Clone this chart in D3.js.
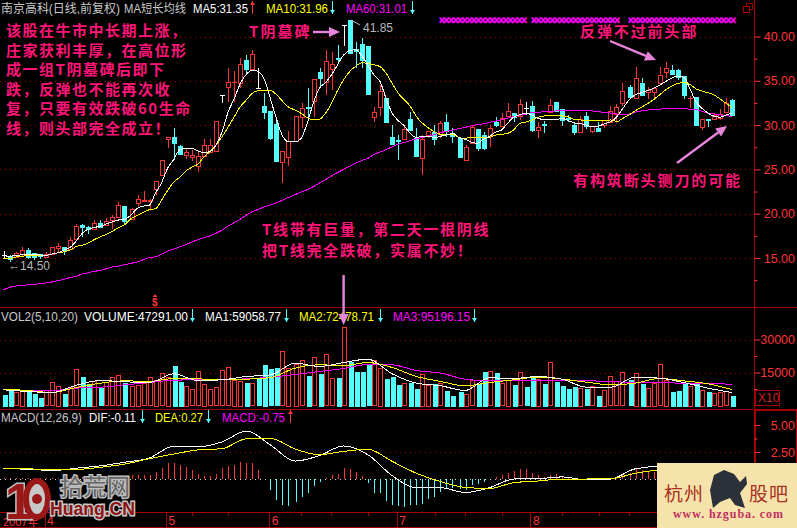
<!DOCTYPE html>
<html>
<head>
<meta charset="utf-8">
<title>南京高科</title>
<script src="https://cdn.jsdelivr.net/npm/d3@7"></script>
<style>
html, body { margin: 0; padding: 0; background: #000; }
svg { display: block; }
text { font-family: "Liberation Sans", "Noto Sans CJK SC", sans-serif; }
.cjk { font-family: "Noto Sans CJK SC", sans-serif; }
.note { font-family: "Noto Sans CJK SC", sans-serif; font-weight: 700; fill: #ff1478; }
</style>
</head>
<body>
<div id="chart"></div>
<script>
// prices, one entry per trading day
const opens = [15.34,15.2,15.15,15.4,15.9,15.55,15.4,15.2,15.45,16.05,16.25,16,17.15,18.7,18.5,18.35,19,18.7,19.35,19.65,20.9,19.4,21.2,21.45,21.5,22.7,24.4,28.45,28.7,27.65,26.65,26.4,25.4,26.45,27,27.1,33.45,34.25,34.85,34.7,37.4,36.35,34.15,32.15,31.6,30.1,25.9,26.45,28.2,30.85,32.05,32.65,35.95,34.85,36.4,37.55,41.3,41.85,38.6,39.2,38.9,30.85,32,33.1,28.7,28.3,28.45,30.7,28.6,26.25,28.9,29.25,28.95,30.35,29.1,28.6,26.05,27.95,29.55,28.9,28.7,30.3,30,31,31.35,31,31.95,32.15,29.5,30.15,31.5,32.6,31.8,30.8,30,29.2,31.05,29.35,29.65,30,30.4,31.2,32.55,34.25,33,34.7,33.75,33.8,34.7,35.9,36.2,36.2,35.55,33,33.15,29.75,30.65,30.65,30.75,31.5,32.85];
const closes = [15.34,14.9,15.55,15.9,15.15,15.1,15.2,15.5,16.2,16.3,15.9,17,18.6,18.5,18.3,19,18.6,19.2,19.65,21,19.2,20.5,21.65,21.55,21.6,23.65,26.1,28.66,28,26.8,26.95,26.6,26.5,27.7,27.75,30.45,33.45,34.85,34.9,36.85,36.35,38,34.15,31.5,28.6,25.95,27.1,28.2,31,31.9,31.9,35.15,35.25,37.2,36.95,37.45,41.3,38.1,38.35,37.35,33.5,31.45,33.85,30.4,27.95,28.2,29.55,29.5,26.55,28.45,29.35,28.5,30.2,29.35,28.75,26.45,27.5,29.8,27.45,27.45,29.65,30,30.85,31.6,30.95,32.35,31.95,29.45,29.8,30,32.25,31.6,30.6,30.7,29.2,30.65,29.9,29.9,29.35,30.6,31.6,32,33.9,33.15,35.3,33.3,33.95,34.2,35.65,36.4,35.75,35.4,33.4,33.05,30,30.65,30.55,31.15,31.25,32.55,31.15];
const highs = [15.8,15.3,15.7,16.2,16.1,15.6,15.5,15.7,16.2,16.7,16.25,17.4,18.85,18.85,18.6,19.25,19.25,19.5,19.85,21.35,20.9,20.6,22.1,22.55,21.65,23.65,26.1,28.66,29.65,27.7,27.3,27.2,27.2,28.4,28.45,30.45,33.45,36.5,36.05,37.55,37.9,38.5,36.5,33.6,31.6,30.5,27.1,29.35,31,32.45,34.15,35.15,36.4,38.5,38.3,39.05,41.3,41.85,39.4,39.8,38.9,32,34.5,33.1,30,28.9,30,31.5,29.65,28.9,29.35,30,30.45,31.25,29.65,28.6,27.75,30,29.55,29.25,30,30.95,31.35,32.5,31.35,32.95,32.65,32.7,30.4,30.5,32.9,32.6,31.8,31.15,30.25,31.05,31.45,29.9,30.4,30.6,32.1,32.4,34.7,34.5,36.6,35.3,34.25,34.25,36.6,37.15,36.8,36.3,35.55,33.3,33.15,30.7,30.65,31.35,31.8,33.05,32.9];
const lows = [15,14.5,15,15.1,14.9,14.8,14.9,15.1,15.4,15.7,15.3,15.9,17.1,17.4,17.7,18.3,18.35,18.6,18.25,19.6,18.75,19.4,20.9,21.45,20.5,22.1,24.2,27.4,26.1,26.6,26.15,25.95,24.75,26.4,26.9,27.1,32.45,32.65,32.65,34.15,35.9,36.15,34.15,30.7,28.3,25.95,23.45,25.4,28.2,29.65,30.75,30.95,34.2,33.4,34,36.95,38.95,38,36.4,36.4,33.5,30.3,31.05,30.4,27.85,26.1,28.45,29.5,26.55,24.4,28.5,27.75,28.5,28.7,28,26.45,26,27.95,27.1,27.2,27.55,29.8,30,30.95,30.4,30.6,31.15,29.25,28.6,29.1,31.4,31.5,29.9,30.4,28.9,29.1,29.55,29.1,29.3,29.7,30.3,30.2,32.1,33.1,33,33.3,32.95,32.95,34.7,35.3,35.7,35.1,32.95,31.9,30,29.45,29.8,30.6,30.55,31.4,31.1];
const ma5 = [15.25,15.2,15.3,15.35,15.45,15.4,15.35,15.3,15.45,15.6,15.9,16.2,16.95,17.8,18.25,18.45,18.6,18.85,19.1,19.3,19.4,19.85,20.6,20.85,20.95,22.3,23.45,25.1,26.1,27.2,27.4,27.4,27.1,26.9,27,27.75,29.25,31.5,33,34.7,35.75,36.2,36,35.1,32.85,30.6,28.7,28.1,28.1,28.5,30.2,32.45,34.15,34.8,35.65,36.8,37.9,38.4,38.5,37.8,36.8,35.65,34.9,33,31.35,30.5,29.9,29.05,28.6,28.75,28.75,28.6,28.75,28.9,29.05,28.6,28.4,28.1,27.95,28.4,28.7,29.2,29.45,30.2,30.9,31.15,31.35,31.15,30.75,30.65,30.65,30.65,30.75,30.5,30.25,30.15,30,29.8,29.9,30.15,30.4,30.95,31.9,32.85,33.4,33.65,33.9,34.15,34.5,34.9,35.3,35.55,35.4,34.15,32.65,31.9,31.35,31,30.9,31.15,31.35];
const ma10 = [14.9,14.95,15.1,15.2,15.25,15.3,15.3,15.3,15.45,15.6,15.7,15.9,16.3,16.45,16.7,17.1,17.4,17.7,18.05,18.45,18.8,19.45,19.8,20.15,20.45,20.55,21.5,22.6,23.55,24.1,24.8,25.25,25.6,26.4,27,27.75,28.7,29.8,30.95,32.1,32.85,33.6,33.9,33.95,33.9,33.4,32.65,32,31.7,31.33,30.85,30.6,30.65,31.33,32.45,33.9,35.1,36.05,36.65,37.05,36.95,36.8,36.6,35.85,34.7,33.6,32.85,32.1,30.95,30.2,29.65,29.25,28.95,28.9,28.9,28.6,28.5,28.62,28.62,28.62,28.62,28.88,28.95,29.07,29.45,30.2,30.35,30.58,30.88,31.03,31.03,31.05,31.03,30.9,30.65,30.58,30.5,30.5,30.47,30.5,30.58,30.4,30.77,31.15,31.6,32,32.4,32.85,33.4,33.95,34.4,34.7,34.8,34.6,34.1,33.85,33.65,33.4,32.95,32.45,31.96];
const ma60 = [11.39,11.7,11.84,11.9,11.97,12.03,12.1,12.2,12.3,12.45,12.6,12.8,12.95,13.2,13.35,13.5,13.6,13.8,14,14.1,14.25,14.4,14.55,14.8,15.05,15.13,15.4,15.75,16,16.25,16.5,16.8,17.05,17.3,17.5,17.8,18.15,18.6,19,19.4,19.85,20.25,20.5,20.8,21,21.25,21.55,21.85,22.15,22.45,22.7,23.05,23.45,23.85,24.25,24.65,25,25.35,25.7,26,26.25,26.7,26.95,27.25,27.55,27.85,28.05,28.25,28.45,28.6,28.75,28.95,29.15,29.3,29.45,29.6,29.75,29.9,30.05,30.15,30.3,30.45,30.6,30.8,30.95,31.1,31.25,31.4,31.45,31.5,31.55,31.6,31.65,31.67,31.7,31.7,31.65,31.6,31.5,31.45,31.35,31.25,31.15,31.25,31.45,31.6,31.7,31.75,31.8,31.85,31.9,31.9,31.85,31.8,31.75,31.55,31.35,31.25,31.15,31.05,31.01];

// volume bars (axis units, the real figure is X10)
const volumes = [5300,7120,6060,7120,7120,5760,4090,6820,10600,9090,5760,8330,16500,13480,10450,11200,8330,10600,12880,13790,10900,9090,9390,10150,12880,11670,14700,13180,18480,11200,8940,7420,15600,9850,7420,8330,16060,17420,11670,11200,10900,10150,12880,18940,16970,17420,24700,17120,18940,20600,13940,21970,15000,23330,12420,13030,35600,20450,15760,15900,19240,20600,17270,12570,13480,10000,10150,10900,8180,14390,9390,10450,10150,7120,4850,6670,5300,11510,10450,15760,15600,15300,10150,11670,10000,15150,8640,13940,12270,10450,19700,11360,9390,8180,8940,8030,7730,8790,4850,7120,13330,11060,15150,11970,14850,10450,8030,10450,18790,11670,6670,7120,10450,8940,10760,7120,6670,5600,6210,6510,4850];
const flatDownDays = [0, 42, 86];
// the average lines of the two lower panels, read every fourth day
const sampleDays = d3.range(0, 121, 4);
const volMa1 = [7120,6360,5910,9240,11360,10760,10450,14390,11360,11670,13180,13940,19240,17730,19540,21060,14390,10150,8940,6820,12570,12270,13180,11970,8330,8330,12880,12420,10450,7880,5906];
const volMa2 = [7420,6820,5910,8180,10150,11210,10910,12270,12120,11670,11970,12730,16970,18480,18180,19540,17270,13180,10910,8940,10450,11670,12880,11970,10600,9390,10150,12270,11210,9850,7248];
const volMa3 = [7420,6820,6820,7880,8330,9390,10450,11510,11670,11820,12120,12880,14090,15450,16820,18630,18480,15900,14700,11970,11210,11210,11210,11510,11360,10760,10600,10450,10150,10150,9520];

const macdHist = [0.05,0.05,0.05,0.05,0.05,0.05,0.05,0.05,0.05,0.05,0.05,0.1,0.1,0.2,0.2,0.2,0.2,0.25,0.3,0.3,0.3,0.35,0.38,0.41,0.38,0.69,1,1.44,1.5,1.28,1.13,0.81,0.44,0.31,0.31,0.47,1,1.25,1.31,1.56,1.47,1.47,0.84,0,-1.03,-1.97,-2.44,-2.53,-2.13,-1.66,-1.28,-0.66,-0.31,0.06,0.38,0.47,1,0.91,0.69,0.28,-0.34,-1.25,-1.34,-2.03,-2.44,-2.5,-2.6,-2.44,-2.38,-2.34,-1.88,-1.66,-1.19,-0.81,-0.81,-0.88,-1.03,-0.56,-0.47,-0.25,0,0.16,0.38,0.59,0.78,0.91,0.94,0.53,0.41,0.16,0.38,0.44,0.22,0.22,0.06,0.02,0.02,0.02,0.02,0.02,0,0.22,0.47,0.53,0.91,0.84,0.75,0.69,0.7,0.8,0.6,0.3,-0.5,-1,-1.2,-1.3,-1,-0.9,-0.8,-0.7,-0.75];
const dif = [0.94,0.91,0.78,1,1.22,1.56,1.94,3.03,2.97,3.44,4.44,3.13,1.66,2.16,3.06,2.25,0.31,-0.81,-0.81,-1.25,-0.81,0,0.03,0.19,-0.09,0,0.94,1.16,1.16,0.53,-0.11];
const dea = [0.94,0.94,0.84,0.88,1.09,1.38,1.88,2.31,2.69,2.81,3.72,3.75,2.78,2.25,2.56,2.75,1.63,0.53,-0.25,-0.78,-0.88,-0.34,-0.19,0,0,0.03,0.53,0.84,1,0.69,0.27];

const priceTicks = [40, 35, 30, 25, 20, 15];
const priceMinor = [37.5, 32.5, 27.5, 22.5, 17.5, 12.5];
const volTicks = [30000, 15000];
const volMinor = [22500, 7500];
const macdTicks = [5, 2.5];
const macdMinor = [3.75];
const monthDays = [7, 27, 44, 65, 87];
const monthNames = ["4", "5", "6", "7", "8"];
const minorDays = [13, 20, 31, 37, 49, 54, 60, 71, 76, 82, 92, 98, 103];

const noteLines = ["该股在牛市中长期上涨，", "庄家获利丰厚，在高位形", "成一组T阴墓碑后即下", "跌，反弹也不能再次收", "复，只要有效跌破60生命", "线，则头部完全成立！"];

const RED = "#ff3434";
const CYAN = "#54fcfc";
const DARKRED = "#a80000";
const MAGENTA = "#ff00ff";
const YELLOW = "#ffff00";
const ARROW = "#e884dc";

const width = 797, height = 528;
const svg = d3.select("#chart").append("svg")
        .attr("width", width)
        .attr("height", height)
        .style("background", "#000");

const x = d3.scaleLinear().domain([0, 120]).range([3.5, 732.3]);
const yPrice = d3.scaleLinear().domain([15, 40]).range([258, 36.5]);
const yVol = d3.scaleLinear().domain([0, 30000]).range([405.5, 339.5]);
const yMacd = d3.scaleLinear().domain([0, 5]).range([479, 425]);

function px(v) {
    return Math.round(v)+0.5;
}

// one pixel wide bars keep their colour in the photographed picture only on even columns
function barX(i) {
    return Math.round(x(i)/2)*2+0.5;
}

function drawGrid(scale, ticks, color) {
    svg.append("g").selectAll("line").data(ticks).join("line")
            .attr("x1", 0)
            .attr("x2", 754)
            .attr("y1", d => px(scale(d)))
            .attr("y2", d => px(scale(d)))
            .attr("stroke", color)
            .attr("stroke-dasharray", "1 4");
}

function drawAxis(scale, ticks, minor, fmt) {
    const g = svg.append("g").attr("transform", "translate(754.5,0)");
    g.call(d3.axisRight(scale).tickValues(ticks).tickFormat(fmt).tickSize(6));
    g.select(".domain").remove();
    g.selectAll("line").attr("stroke", RED);
    g.selectAll("text")
            .attr("x", 40.5)
            .attr("text-anchor", "end")
            .attr("fill", RED)
            .style("font-size", "12.5px");
    const m = svg.append("g").attr("transform", "translate(754.5,0)");
    m.call(d3.axisRight(scale).tickValues(minor).tickFormat("").tickSize(3));
    m.select(".domain").remove();
    m.selectAll("line").attr("stroke", RED);
}

drawGrid(yPrice, priceTicks, "#b00000");
drawGrid(yVol, volTicks, "#b00000");
drawGrid(yMacd, [2.5], "#b00000");
drawGrid(yMacd, [0], "#d8d8d8");

// frame
const frame = svg.append("g").attr("stroke", DARKRED).attr("fill", "none");
frame.append("line").attr("x1", 754.5).attr("x2", 754.5).attr("y1", 0).attr("y2", height);
[307.5, 409.5].forEach(function(y) {
    frame.append("line").attr("x1", 0).attr("x2", width).attr("y1", y).attr("y2", y);
});
frame.append("line").attr("x1", 0).attr("x2", 754).attr("y1", 512.5).attr("y2", 512.5);
frame.append("line").attr("x1", 0).attr("x2", 754).attr("y1", 527.5).attr("y2", 527.5);
frame.append("rect").attr("x", 755.5).attr("y", 410.5).attr("width", 41).attr("height", 116);
frame.append("rect").attr("x", 755.5).attr("y", 390.5).attr("width", 24).attr("height", 15);
frame.append("rect").attr("x", 743.5).attr("y", 6.5).attr("width", 6).attr("height", 6);
frame.append("path").attr("d", "M746.5 6V3.5H752.5V9.5H750");

drawAxis(yPrice, priceTicks, priceMinor, d3.format(".2f"));
drawAxis(yVol, volTicks, volMinor, d3.format("d"));
drawAxis(yMacd, macdTicks, macdMinor, d3.format(".2f"));

svg.append("text").text("X10")
        .attr("x", 758).attr("y", 402)
        .attr("fill", "#d02020")
        .style("font-size", "12px");

// candles
const days = d3.range(opens.length);
const candles = svg.append("g").attr("shape-rendering", "crispEdges");

function candleColor(i) {
    if (opens[i] === closes[i]) {
        return "#ffffff";
    }
    return closes[i] > opens[i] ? RED : CYAN;
}

candles.selectAll("line.wick").data(days).join("line")
        .attr("class", "wick")
        .attr("x1", barX)
        .attr("x2", barX)
        .attr("y1", i => yPrice(highs[i]))
        .attr("y2", i => yPrice(lows[i]))
        .attr("stroke", candleColor);

candles.selectAll("rect.body").data(days).join("rect")
        .attr("class", "body")
        .attr("x", i => barX(i)-2)
        .attr("y", i => px(yPrice(Math.max(opens[i], closes[i]))))
        .attr("width", 4)
        .attr("height", i => Math.max(0.01, Math.round(Math.abs(yPrice(opens[i])-yPrice(closes[i])))))
        .attr("fill", i => closes[i] > opens[i] ? "#000" : candleColor(i))
        .attr("stroke", candleColor);

const priceLine = d3.line().x((d, i) => x(i)).y(d => yPrice(d)).curve(d3.curveMonotoneX);
[[ma60, MAGENTA], [ma10, YELLOW], [ma5, "#ffffff"]].forEach(function(s) {
    svg.append("path")
            .attr("d", priceLine(s[0]))
            .attr("fill", "none")
            .attr("stroke", s[1])
            .attr("stroke-width", 1)
            .attr("shape-rendering", "crispEdges");
});

// magenta signal row at the top of the price panel
[[439, 88], [531, 89], [628, 108]].forEach(function(r) {
    svg.append("text")
            .text("×".repeat(Math.round(r[1]/4.6)))
            .attr("x", r[0]).attr("y", 24)
            .attr("textLength", r[1])
            .attr("lengthAdjust", "spacing")
            .attr("fill", MAGENTA)
            .attr("stroke", MAGENTA)
            .attr("stroke-width", 0.5)
            .style("font-size", "10px")
            .style("font-weight", "700");
});

// volume
const volume = svg.append("g").attr("shape-rendering", "crispEdges");
function isVolumeUp(i) {
    if (opens[i] === closes[i]) {
        return flatDownDays.indexOf(i) < 0;
    }
    return closes[i] > opens[i];
}
volume.selectAll("rect").data(days).join("rect")
        .attr("x", i => barX(i)-2)
        .attr("y", i => px(yVol(volumes[i])))
        .attr("width", i => isVolumeUp(i) ? 4 : 5)
        .attr("height", i => Math.round(yVol(0)-yVol(volumes[i])))
        .attr("fill", i => isVolumeUp(i) ? "#000" : CYAN)
        .attr("stroke", i => isVolumeUp(i) ? RED : "none");

const volLine = d3.line().x((d, i) => x(sampleDays[i])).y(d => yVol(d)).curve(d3.curveMonotoneX);
[[volMa3, MAGENTA], [volMa2, YELLOW], [volMa1, "#ffffff"]].forEach(function(s) {
    svg.append("path")
            .attr("d", volLine(s[0]))
            .attr("fill", "none")
            .attr("stroke", s[1])
            .attr("shape-rendering", "crispEdges");
});

// macd
const macd = svg.append("g").attr("shape-rendering", "crispEdges");
macd.selectAll("line").data(days).join("line")
        .attr("x1", barX)
        .attr("x2", barX)
        .attr("y1", yMacd(0))
        .attr("y2", i => yMacd(macdHist[i]))
        .attr("stroke", i => macdHist[i] >= 0 ? RED : CYAN);

const macdLine = d3.line().x((d, i) => x(sampleDays[i])).y(d => yMacd(d)).curve(d3.curveMonotoneX);
[[dif, "#ffffff"], [dea, YELLOW]].forEach(function(s) {
    svg.append("path")
            .attr("d", macdLine(s[0]))
            .attr("fill", "none")
            .attr("stroke", s[1])
            .attr("shape-rendering", "crispEdges");
});

// time axis
const timeAxis = svg.append("g").attr("stroke", DARKRED);
timeAxis.selectAll("line.month").data(monthDays).join("line")
        .attr("class", "month")
        .attr("x1", d => px(x(d)-1.5))
        .attr("x2", d => px(x(d)-1.5))
        .attr("y1", 512)
        .attr("y2", 527);
timeAxis.selectAll("line.minor").data(minorDays).join("line")
        .attr("class", "minor")
        .attr("x1", d => px(x(d)))
        .attr("x2", d => px(x(d)))
        .attr("y1", 512)
        .attr("y2", 516);
svg.selectAll("text.month").data(monthNames).join("text")
        .attr("class", "month")
        .text(d => d)
        .attr("x", (d, i) => x(monthDays[i])+1)
        .attr("y", 525)
        .attr("fill", RED)
        .style("font-size", "12px");
svg.append("text").text("2007年")
        .attr("x", 3).attr("y", 525.5)
        .attr("fill", RED)
        .style("font-size", "11px");

// header rows
function header(label, xPos, y, color, w) {
    svg.append("text").text(label)
            .attr("x", xPos).attr("y", y)
            .attr("fill", color)
            .attr("textLength", w)
            .attr("lengthAdjust", "spacingAndGlyphs")
            .style("font-size", "12px");
}

function flag(xPos, y, up) {
    const color = up ? RED : CYAN;
    svg.append("line")
            .attr("x1", xPos+0.5).attr("x2", xPos+0.5)
            .attr("y1", y).attr("y2", y+13)
            .attr("stroke", color);
    const tip = up ? y : y+13;
    const dir = up ? 4 : -4;
    svg.append("path")
            .attr("d", `M${xPos+0.5-2.5} ${tip+dir}L${xPos+0.5} ${tip}L${xPos+0.5+2.5} ${tip+dir}Z`)
            .attr("fill", color);
}

header("南京高科(日线,前复权)", 1, 13, "#c8c8c8", 119);
header("MA短长均线", 124, 13, "#c8c8c8", 62);
header("MA5:31.35", 193, 13, "#ffffff", 55);
flag(252, 1, true);
header("MA10:31.96", 266, 13, YELLOW, 62);
flag(332, 1, false);
header("MA60:31.01", 346, 13, MAGENTA, 61);
flag(412, 1, false);

header("VOL2(5,10,20)", 1, 321, "#c8c8c8", 77);
header("VOLUME:47291.00", 84, 321, "#ffffff", 104);
flag(192, 309, false);
header("MA1:59058.77", 205, 321, "#ffffff", 76);
flag(286, 309, false);
header("MA2:72478.71", 299, 321, YELLOW, 75);
flag(380, 309, false);
header("MA3:95196.15", 393, 321, MAGENTA, 77);
flag(474, 309, false);

header("MACD(12,26,9)", 1, 422, "#c8c8c8", 81);
header("DIF:-0.11", 89, 422, "#ffffff", 47);
flag(142, 410, false);
header("DEA:0.27", 155, 422, YELLOW, 48);
flag(208, 410, false);
header("MACD:-0.75", 222, 422, MAGENTA, 63);
flag(290, 410, true);

// price callouts
svg.append("text").text("41.85")
        .attr("x", 363).attr("y", 32)
        .attr("fill", "#b8b8b8")
        .attr("textLength", 30)
        .style("font-size", "12px");
svg.append("path").attr("d", "M351 20L360 25").attr("stroke", "#b8b8b8").attr("fill", "none");
svg.append("text").text("←14.50")
        .attr("x", 8).attr("y", 270)
        .attr("fill", "#b8b8b8")
        .attr("textLength", 42)
        .attr("lengthAdjust", "spacingAndGlyphs")
        .style("font-size", "13px");
svg.append("path").attr("d", "M152.5 297L155 294L157.5 297Z").attr("fill", RED);
svg.append("text").text("$")
        .attr("x", 152).attr("y", 306)
        .attr("fill", RED)
        .style("font-size", "10px")
        .style("font-weight", "700");

// handwritten notes
svg.selectAll("text.left-note").data(noteLines).join("text")
        .attr("class", "left-note note")
        .text(d => d)
        .attr("x", 6)
        .attr("y", (d, i) => 36+i*19.6)
        .style("font-size", "15px")
        .style("letter-spacing", "1.5px");

function note(label, xPos, y, spacing) {
    svg.append("text").text(label)
            .attr("class", "note")
            .attr("x", xPos).attr("y", y)
            .style("font-size", "15px")
            .style("letter-spacing", spacing+"px");
}
note("T阴墓碑", 249, 37, 2);
note("反弹不过前头部", 580, 37, 1.9);
note("有构筑断头铡刀的可能", 573, 186, 1.9);
note("T线带有巨量，第二天一根阴线", 262, 235, 1.7);
note("把T线完全跌破，实属不妙！", 262, 256, 1.7);

function arrow(x1, y1, x2, y2) {
    const a = Math.atan2(y2-y1, x2-x1);
    const head = 11, wing = 5;
    const bx = x2-head*Math.cos(a), by = y2-head*Math.sin(a);
    const nx = -Math.sin(a), ny = Math.cos(a);
    svg.append("line")
            .attr("x1", x1).attr("y1", y1).attr("x2", bx).attr("y2", by)
            .attr("stroke", ARROW)
            .attr("stroke-width", 2.4);
    svg.append("path")
            .attr("d", `M${x2} ${y2}L${bx+nx*wing} ${by+ny*wing}L${bx-nx*wing} ${by-ny*wing}Z`)
            .attr("fill", ARROW);
}
arrow(313, 32, 340, 32);
arrow(610, 41, 656, 60);
arrow(677, 163, 727, 126);
arrow(x(56), 275, x(56), 325);

// left watermark
const logo = svg.append("g");
logo.append("text").text("拾荒网").attr("class", "cjk")
        .attr("x", 60).attr("y", 495)
        .attr("fill", "#666")
        .attr("stroke", "#bbb")
        .attr("stroke-width", 3)
        .attr("paint-order", "stroke")
        .attr("textLength", 70)
        .style("font-size", "23px");
logo.append("text").text("1")
        .attr("x", 5).attr("y", 519)
        .attr("fill", "#9a1818")
        .attr("stroke", "#c0c0c0")
        .attr("stroke-width", 3)
        .attr("paint-order", "stroke")
        .style("font-size", "50px")
        .style("font-weight", "700");
logo.append("ellipse").attr("cx", 37).attr("cy", 499).attr("rx", 11).attr("ry", 18)
        .attr("fill", "#c8c8c8")
        .attr("stroke", "#9a1818")
        .attr("stroke-width", 6);
logo.append("circle").attr("cx", 37).attr("cy", 499).attr("r", 5).attr("fill", "#9a1818");
logo.append("text").text("Huang.CN")
        .attr("x", 50).attr("y", 515)
        .attr("fill", "#8c1414")
        .attr("stroke", "#c8c8c8")
        .attr("stroke-width", 3)
        .attr("paint-order", "stroke")
        .attr("textLength", 85)
        .attr("lengthAdjust", "spacingAndGlyphs")
        .style("font-size", "19px")
        .style("font-weight", "700");

// right watermark
const logo2 = svg.append("g");
logo2.append("rect").attr("x", 657).attr("y", 463).attr("width", 140).attr("height", 65).attr("fill", "#f6e3ac");
logo2.append("path")
        .attr("d", "M713 508L710 490L714 475L724 470L734 474L740 482L746 476L747 484L740 493L745 508L735 505L730 498L720 502Z")
        .attr("fill", "#2c3038");
logo2.append("text").text("杭州").attr("class", "cjk")
        .attr("x", 664).attr("y", 501)
        .attr("fill", "#a83020")
        .style("font-size", "19px")
        .style("letter-spacing", "1px");
logo2.append("text").text("股吧").attr("class", "cjk")
        .attr("x", 749).attr("y", 501)
        .attr("fill", "#a83020")
        .style("font-size", "19px")
        .style("letter-spacing", "1px");
logo2.append("text").text("www. hzguba. com")
        .attr("x", 673).attr("y", 518)
        .attr("fill", "#c03060")
        .attr("textLength", 110)
        .style("font-family", "Liberation Serif")
        .style("font-size", "12px")
        .style("font-weight", "700");
</script>
</body>
</html>
